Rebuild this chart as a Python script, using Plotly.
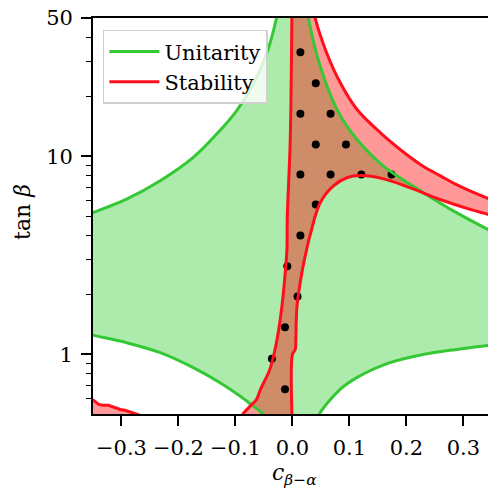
import plotly.graph_objects as go

# ---------------- data ----------------
# Unitarity boundary curves (x = c_{beta-alpha}, y = tan beta)
uni_ul_x = [-0.36, -0.349, -0.291, -0.232, -0.174, -0.133, -0.098, -0.0687, -0.0454, -0.0279, -0.024]
uni_ul_y = [5.07, 5.22, 6.09, 7.54, 9.89, 12.96, 17.0, 23.2, 32.9, 50, 58]
uni_ur_x = [0.025, 0.028, 0.0487, 0.078, 0.113, 0.160, 0.230, 0.288, 0.343, 0.36]
uni_ur_y = [58, 50, 28.6, 17.3, 12.2, 8.93, 6.56, 5.20, 4.28, 4.05]
uni_ll_x = [-0.36, -0.349, -0.291, -0.232, -0.174, -0.127, -0.092, -0.069, -0.054, -0.050, -0.047]
uni_ll_y = [1.27, 1.247, 1.146, 1.02, 0.857, 0.719, 0.616, 0.548, 0.507, 0.48, 0.46]
uni_lr_x = [0.044, 0.046, 0.0487, 0.0838, 0.113, 0.171, 0.230, 0.288, 0.343, 0.36]
uni_lr_y = [0.46, 0.48, 0.507, 0.666, 0.763, 0.908, 1.0, 1.06, 1.11, 1.12]

# Stability boundary curves
stab_left_x = [-0.094, -0.090, -0.087, -0.074, -0.063, -0.056, -0.039, -0.027, -0.0184, -0.0126, -0.0096, -0.009, -0.004, -0.002, -0.001, -0.0005]
stab_left_y = [0.46, 0.48, 0.5, 0.548, 0.593, 0.666, 0.85, 1.19, 1.75, 2.59, 3.4, 4.93, 11.5, 25, 50, 58]
stab_inner_x = [-0.001, -0.001, -0.001, 0.0, 0.005, 0.006, 0.008, 0.0167, 0.025, 0.032, 0.0487, 0.072, 0.0955, 0.119, 0.160, 0.206, 0.259, 0.312, 0.343, 0.36]
stab_inner_y = [0.46, 0.48, 0.507, 1.0, 1.06, 1.19, 1.75, 2.59, 3.39, 4.1, 5.83, 7.1, 7.8, 8.0, 7.7, 6.95, 6.06, 5.4, 5.1, 4.95]
stab_outer_x = [0.036, 0.040, 0.060, 0.0838, 0.113, 0.154, 0.201, 0.230, 0.259, 0.288, 0.343, 0.36]
stab_outer_y = [58, 50, 33.4, 23.6, 17.3, 13.2, 10.2, 8.9, 8.0, 7.2, 6.14, 5.9]
stab_corner_x = [-0.36, -0.349, -0.340, -0.332, -0.323, -0.317, -0.308, -0.302, -0.294, -0.285, -0.276, -0.270, -0.266]
stab_corner_y = [0.60, 0.586, 0.559, 0.553, 0.553, 0.545, 0.538, 0.527, 0.522, 0.511, 0.504, 0.496, 0.48]

# Benchmark points
pts_x = [0.014, 0.041, 0.014, 0.067, 0.041, 0.094, 0.014, 0.067, 0.121, 0.174, 0.041, 0.014, -0.009, 0.009, -0.013, -0.036, -0.013]
pts_y = [33.6, 23.4, 16.4, 16.4, 11.5, 11.5, 8.1, 8.1, 8.1, 8.1, 5.72, 3.99, 2.79, 1.96, 1.37, 0.95, 0.666]

# ticks
x_ticks = [-0.3, -0.2, -0.1, 0.0, 0.1, 0.2, 0.3]
x_tick_text = ["\u22120.3", "\u22120.2", "\u22120.1", "0.0", "0.1", "0.2", "0.3"]
y_ticks = [1, 10, 50]
y_tick_text = ["1", "10", "50"]
y_minor = [0.6, 0.7, 0.8, 0.9, 2, 3, 4, 5, 6, 7, 8, 9, 20, 30, 40]

# ---------------- styling ----------------
GREEN = "#35c835"
RED = "#ff0f1c"
GREEN_FILL = "rgba(50,205,50,0.4)"
RED_FILL = "rgba(255,0,0,0.4)"
FONT = "DejaVu Serif"

fig = go.Figure()

# unitarity region
gx = uni_ul_x + uni_ur_x + uni_lr_x[::-1] + uni_ll_x[::-1]
gy = uni_ul_y + uni_ur_y + uni_lr_y[::-1] + uni_ll_y[::-1]
fig.add_trace(go.Scatter(x=gx, y=gy, fill="toself", fillcolor=GREEN_FILL, mode="lines",
                         line=dict(width=0, shape="spline"), hoverinfo="skip", showlegend=False))

# stability region
rx = stab_left_x + stab_outer_x + stab_inner_x[::-1]
ry = stab_left_y + stab_outer_y + stab_inner_y[::-1]
fig.add_trace(go.Scatter(x=rx, y=ry, fill="toself", fillcolor=RED_FILL, mode="lines",
                         line=dict(width=0, shape="spline"), hoverinfo="skip", showlegend=False))
fig.add_trace(go.Scatter(x=stab_corner_x + [-0.36], y=stab_corner_y + [0.48], fill="toself",
                         fillcolor=RED_FILL, mode="lines", line=dict(width=0),
                         hoverinfo="skip", showlegend=False))

# points
fig.add_trace(go.Scatter(x=pts_x, y=pts_y, mode="markers",
                         marker=dict(size=8, color="black"), showlegend=False))

# unitarity lines
first = True
for cx, cy in [(uni_ul_x, uni_ul_y), (uni_ur_x, uni_ur_y), (uni_ll_x, uni_ll_y), (uni_lr_x, uni_lr_y)]:
    fig.add_trace(go.Scatter(x=cx, y=cy, mode="lines", name="Unitarity", legendgroup="u",
                             showlegend=first, line=dict(color=GREEN, width=3, shape="spline")))
    first = False

# stability lines
first = True
for cx, cy, sh in [(stab_left_x, stab_left_y, "spline"), (stab_inner_x, stab_inner_y, "spline"),
                   (stab_outer_x, stab_outer_y, "spline"), (stab_corner_x, stab_corner_y, "linear")]:
    fig.add_trace(go.Scatter(x=cx, y=cy, mode="lines", name="Stability", legendgroup="s",
                             showlegend=first, line=dict(color=RED, width=3, shape=sh)))
    first = False

fig.update_layout(
    width=488, height=490,
    margin=dict(l=93, r=0, t=18, b=76),
    plot_bgcolor="white", paper_bgcolor="white",
    font=dict(family=FONT, size=21, color="black"),
    legend=dict(x=0.025, y=0.97, xanchor="left", yanchor="top",
                bgcolor="rgba(255,255,255,0.8)", bordercolor="#d0d0d0", borderwidth=1.5,
                font=dict(size=21, family=FONT), itemwidth=50, tracegroupgap=0),
    annotations=[
        dict(text="tan <i>\u03b2</i>", xref="paper", yref="paper", x=-0.18, y=0.51,
             xanchor="center", yanchor="middle",
             textangle=-90, showarrow=False, font=dict(size=22, family=FONT)),
        dict(text="<i>c</i><sub><i>\u03b2</i>\u2212<i>\u03b1</i></sub>", xref="paper", yref="paper",
             x=0.51, y=-0.152, xanchor="center", yanchor="middle",
             showarrow=False, font=dict(size=22, family=FONT)),
    ],
)
fig.update_xaxes(range=[-0.35, 0.3433], tickvals=x_ticks, ticktext=x_tick_text,
                 ticks="outside", ticklen=10, tickwidth=1.6, tickcolor="black",
                 showline=True, linewidth=1.8, linecolor="black", mirror=True,
                 showgrid=False, zeroline=False, ticklabelstandoff=4)
fig.update_yaxes(type="log", range=[-0.30103, 1.69897], tickvals=y_ticks, ticktext=y_tick_text,
                 ticks="outside", ticklen=10, tickwidth=1.6, tickcolor="black",
                 showline=True, linewidth=1.8, linecolor="black",
                 showgrid=False, zeroline=False, ticklabelstandoff=4,
                 minor=dict(tickvals=y_minor, ticks="outside", ticklen=5, tickwidth=1.2,
                            tickcolor="black", showgrid=False))

fig.write_html("out.html", config={"displayModeBar": False},
               post_script="document.body.style.margin='0';document.body.style.padding='0';")
